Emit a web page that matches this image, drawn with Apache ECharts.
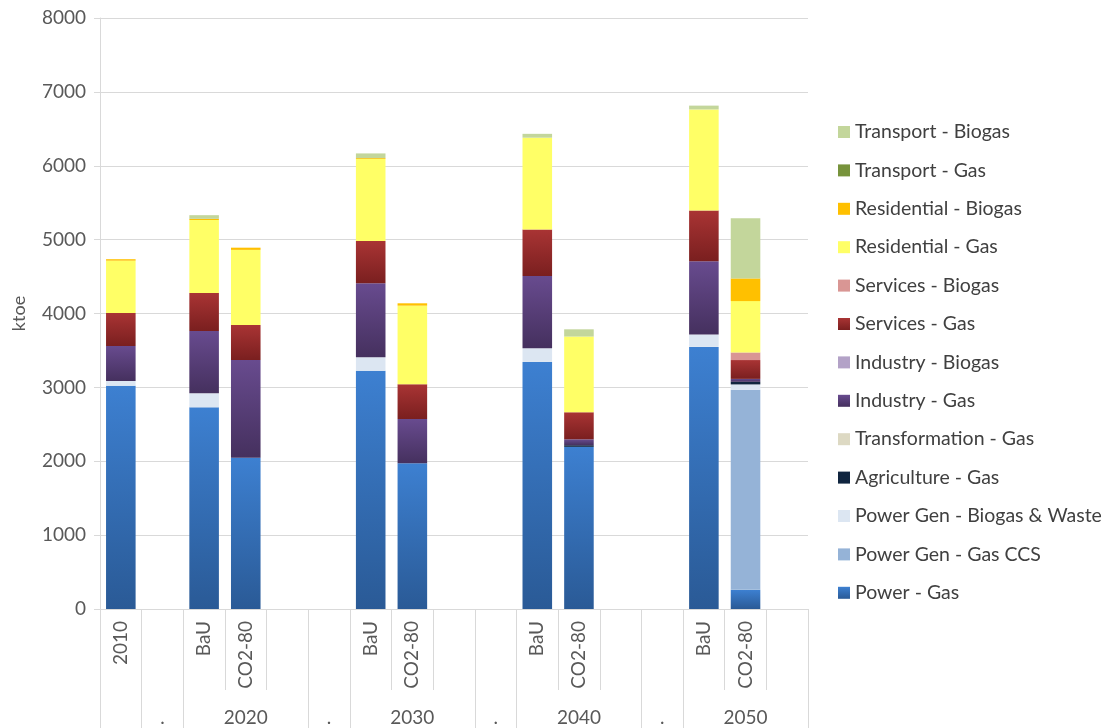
<!DOCTYPE html>
<html>
<head>
<meta charset="utf-8">
<script src="https://cdn.jsdelivr.net/npm/echarts@6/dist/echarts.min.js"></script>
<style>
html,body{margin:0;padding:0;background:#fff;}
#chart{width:1111px;height:728px;}
</style>
</head>
<body>
<div id="chart"></div>
<script>
// Category slots (inner labels) and group labels
var innerLabels = ['2010', '', 'BaU', 'CO2-80', '', '', 'BaU', 'CO2-80', '', '', 'BaU', 'CO2-80', '', '', 'BaU', 'CO2-80', ''];
var groupLabels = ['', '.', '', '2020', '', '.', '', '2030', '', '.', '', '2040', '', '.', '', '2050', ''];
var groupBoundaries = [0, 1, 2, 5, 6, 9, 10, 13, 14];
var yTicks = [0, 8000, 1000];

// Series values (ktoe), one entry per slot, null = empty slot
var powerGas        = [3023, null, 2730, 2048, null, null, 3226, 1972, null, null, 3344, 2195, null, null, 3548, 260, null];
var powerGasCCS     = [0, null, 0, 0, null, null, 0, 0, null, null, 0, 0, null, null, 0, 2708, null];
var powerBiogasWaste= [64, null, 190, 0, null, null, 181, 0, null, null, 186, 0, null, null, 168, 72, null];
var agricultureGas  = [0, null, 0, 0, null, null, 0, 0, null, null, 0, 22, null, null, 0, 35, null];
var transformationGas=[0, null, 0, 0, null, null, 0, 0, null, null, 0, 0, null, null, 0, 0, null];
var industryGas     = [473, null, 843, 1322, null, null, 1002, 600, null, null, 978, 80, null, null, 992, 40, null];
var industryBiogas  = [0, null, 0, 0, null, null, 0, 0, null, null, 0, 0, null, null, 0, 0, null];
var servicesGas     = [447, null, 514, 474, null, null, 572, 469, null, null, 629, 366, null, null, 685, 255, null];
var servicesBiogas  = [0, null, 0, 0, null, null, 0, 0, null, null, 0, 0, null, null, 0, 103, null];
var residentialGas  = [708, null, 989, 1017, null, null, 1110, 1065, null, null, 1243, 1025, null, null, 1369, 695, null];
var residentialBiogas=[20, null, 15, 30, null, null, 12, 32, null, null, 0, 0, null, null, 0, 307, null];
var transportGas    = [0, null, 0, 0, null, null, 0, 0, null, null, 0, 0, null, null, 0, 0, null];
var transportBiogas = [0, null, 50, 0, null, null, 64, 0, null, null, 52, 98, null, null, 52, 815, null];

function grad(top, bottom) {
  return {type: 'linear', x: 0, y: 0, x2: 0, y2: 1, colorStops: [{offset: 0, color: top}, {offset: 1, color: bottom}]};
}

var seriesDefs = [
  ['Power - Gas', powerGas, grad('#3D80D1', '#2A5A96')],
  ['Power Gen - Gas CCS', powerGasCCS, '#95B3D7'],
  ['Power Gen - Biogas & Waste', powerBiogasWaste, '#DCE6F2'],
  ['Agriculture - Gas', agricultureGas, '#10253F'],
  ['Transformation - Gas', transformationGas, '#DDD9C3'],
  ['Industry - Gas', industryGas, grad('#684B8F', '#45305E')],
  ['Industry - Biogas', industryBiogas, '#B3A2C7'],
  ['Services - Gas', servicesGas, grad('#A93434', '#7A1F1F')],
  ['Services - Biogas', servicesBiogas, '#D99694'],
  ['Residential - Gas', residentialGas, '#FFFF66'],
  ['Residential - Biogas', residentialBiogas, '#FFC000'],
  ['Transport - Gas', transportGas, '#77933C'],
  ['Transport - Biogas', transportBiogas, '#C3D69B']
];

var FONT = 'Lato';
var series = seriesDefs.map(function (d) {
  return {
    name: d[0], type: 'bar', stack: 'total', xAxisIndex: 0,
    data: d[1], barCategoryGap: '29%',
    itemStyle: {color: d[2]},
    emphasis: {disabled: true}
  };
});

var chart = echarts.init(document.getElementById('chart'), null, {renderer: 'canvas'});
chart.setOption({
  animation: false,
  backgroundColor: '#ffffff',
  textStyle: {fontFamily: FONT},
  grid: {left: 100, right: 303, top: 18, bottom: 119, containLabel: false},
  legend: {
    orient: 'vertical', left: 833, top: 117,
    itemWidth: 12, itemHeight: 12, itemGap: 18.4,
    icon: 'rect',
    data: seriesDefs.map(function (d) { return d[0]; }).reverse(),
    textStyle: {fontFamily: FONT, fontSize: 19.5, color: '#404040', lineHeight: 20}
  },
  xAxis: [{
    type: 'category', position: 'bottom', data: innerLabels,
    axisLine: {show: true, lineStyle: {color: '#D9D9D9', width: 1}},
    axisTick: {show: true, interval: 0, length: 81, lineStyle: {color: '#D9D9D9'}},
    axisLabel: {interval: 0, rotate: 90, margin: 12, fontFamily: FONT, fontSize: 19, color: '#595959'},
    splitLine: {show: false}
  }, {
    type: 'category', position: 'bottom', offset: 0, data: groupLabels,
    axisLine: {show: false},
    axisTick: {show: true, length: 119, lineStyle: {color: '#D9D9D9'},
      interval: function (idx) { return groupBoundaries.indexOf(idx) >= 0; }},
    axisLabel: {interval: 0, margin: 99, fontFamily: FONT, fontSize: 19, color: '#595959'},
    splitLine: {show: false}
  }],
  yAxis: {
    type: 'value', min: yTicks[0], max: yTicks[1], interval: yTicks[2],
    name: 'ktoe', nameLocation: 'middle', nameGap: 72, nameRotate: 90,
    nameTextStyle: {fontFamily: FONT, fontSize: 18, color: '#595959'},
    axisLine: {show: true, lineStyle: {color: '#D9D9D9'}},
    axisTick: {show: true, length: 6, lineStyle: {color: '#D9D9D9'}},
    axisLabel: {margin: 14, fontFamily: FONT, fontSize: 19, color: '#595959',
      formatter: function (v) { return String(v); }},
    splitLine: {show: true, lineStyle: {color: '#D9D9D9', width: 1}}
  },
  series: series
});
</script>
</body>
</html>
